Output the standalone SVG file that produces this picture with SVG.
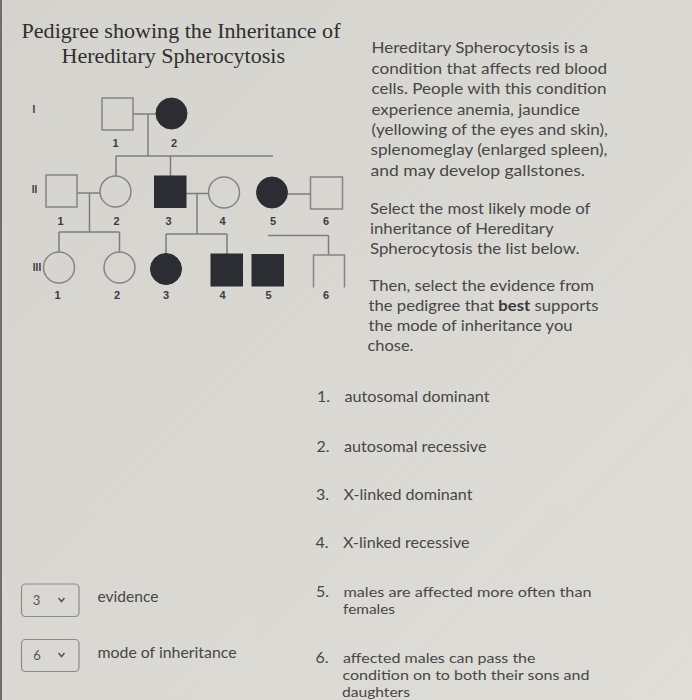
<svg xmlns="http://www.w3.org/2000/svg" width="692" height="700" viewBox="0 0 692 700">
  <defs>
    <linearGradient id="bg" x1="0" y1="0" x2="1" y2="1">
      <stop offset="0" stop-color="#d5d3ce"/>
      <stop offset="1" stop-color="#dfddd8"/>
    </linearGradient>
  </defs>
  <style>
    .title { font-family: "Liberation Serif", "Times New Roman", serif; font-size: 22px; fill: #2f2f2f; }
    .para { font-family: Lato, "Open Sans", "Liberation Sans", sans-serif; font-size: 16px; fill: #474747; }
    .tight { font-size: 14px; }
    .bold { font-weight: bold; fill: #3a3a3a; }
    .lbl { font-family: "Liberation Sans", Arial, sans-serif; font-size: 11px; font-weight: bold; fill: #3c3c3c; text-anchor: middle; }
    .gen { font-family: "Liberation Sans", Arial, sans-serif; font-size: 10px; font-weight: bold; fill: #3c3c3c; text-anchor: middle; }
    .open { fill: none; stroke: #858585; stroke-width: 1.5; }
    .filled { fill: #2b2d33; stroke: #2b2d33; stroke-width: 1; }
    .conn line, .conn polyline { stroke: #7d7d7d; stroke-width: 1.5; fill: none; }
    .box { fill: none; stroke: #8c8c8c; stroke-width: 1.2; }
    .chev { fill: none; stroke: #555; stroke-width: 1.5; }
    .sel { font-family: Lato, "Liberation Sans", sans-serif; font-size: 13px; fill: #555; text-anchor: middle; }
  </style>
  <rect width="692" height="700" fill="url(#bg)"/>
  <rect x="0" y="0" width="2" height="700" fill="#6f6e6b"/>

  <!-- Title -->
  <text class="title" x="21.5" y="38" textLength="319" lengthAdjust="spacingAndGlyphs">Pedigree showing the Inheritance of</text>
  <text class="title" x="61.5" y="63" textLength="223.5" lengthAdjust="spacingAndGlyphs">Hereditary Spherocytosis</text>

  <!-- Generation numerals -->
  <text class="gen" x="34" y="113">I</text>
  <text class="gen" x="34.5" y="193">II</text>
  <text class="gen" x="37" y="271">III</text>

  <!-- Connectors -->
  <g id="connectors" class="conn">
    <line x1="133" y1="114" x2="156" y2="114"/>
    <line x1="148" y1="114" x2="148" y2="156"/>
    <line x1="116" y1="156" x2="273" y2="156"/>
    <line x1="116" y1="156" x2="116" y2="176"/>
    <line x1="170.5" y1="156" x2="170.5" y2="176"/>
    <line x1="77" y1="193" x2="100" y2="193"/>
    <line x1="89.5" y1="193" x2="89.5" y2="232"/>
    <line x1="59" y1="232" x2="119.5" y2="232"/>
    <line x1="59" y1="232" x2="59" y2="252"/>
    <line x1="119.5" y1="232" x2="119.5" y2="252"/>
    <line x1="186" y1="193.5" x2="208.5" y2="193.5"/>
    <line x1="197" y1="193.5" x2="197" y2="234"/>
    <line x1="166" y1="234" x2="227" y2="234"/>
    <line x1="166" y1="234" x2="166" y2="253.5"/>
    <line x1="227" y1="234" x2="227" y2="254"/>
    <line x1="288" y1="194" x2="310" y2="194"/>
    <line x1="268" y1="235.5" x2="328.5" y2="235.5"/>
    <line x1="328.5" y1="235.5" x2="328.5" y2="255"/>
  </g>

  <!-- Generation I -->
  <g id="I-1"><rect class="open" x="102" y="98" width="31" height="32"/><text class="lbl" x="115.5" y="147">1</text></g>
  <g id="I-2"><circle class="filled" cx="171.5" cy="113.5" r="15.5"/><text class="lbl" x="174" y="147">2</text></g>

  <!-- Generation II -->
  <g id="II-1"><rect class="open" x="46" y="175" width="31" height="32"/><text class="lbl" x="60.5" y="224.5">1</text></g>
  <g id="II-2"><circle class="open" cx="115.5" cy="191.5" r="15.5"/><text class="lbl" x="116.5" y="224.5">2</text></g>
  <g id="II-3"><rect class="filled" x="154.5" y="176" width="31.5" height="31.5"/><text class="lbl" x="168.5" y="224.5">3</text></g>
  <g id="II-4"><circle class="open" cx="224" cy="192.5" r="15.5"/><text class="lbl" x="222.5" y="224.5">4</text></g>
  <g id="II-5"><circle class="filled" cx="272" cy="192.5" r="15.5"/><text class="lbl" x="273" y="224.5">5</text></g>
  <g id="II-6"><rect class="open" x="310.5" y="177" width="32" height="32"/><text class="lbl" x="326" y="224.5">6</text></g>

  <!-- Generation III -->
  <g id="III-1"><circle class="open" cx="59" cy="267.5" r="15.5"/><text class="lbl" x="57.5" y="298.5">1</text></g>
  <g id="III-2"><circle class="open" cx="119.5" cy="267.5" r="15.5"/><text class="lbl" x="117" y="298.5">2</text></g>
  <g id="III-3"><circle class="filled" cx="166" cy="269" r="15.5"/><text class="lbl" x="166" y="298.5">3</text></g>
  <g id="III-4"><rect class="filled" x="211" y="254" width="31.5" height="32"/><text class="lbl" x="222.5" y="298.5">4</text></g>
  <g id="III-5"><rect class="filled" x="252" y="254.5" width="31.5" height="31.5"/><text class="lbl" x="268.5" y="298.5">5</text></g>
  <g id="III-6"><polyline class="open" points="313.5,287.5 313.5,255 344.5,255 344.5,287.5"/><text class="lbl" x="326" y="298.5">6</text></g>

  <!-- Right paragraph -->
  <g id="description">
    <text class="para" x="371.5" y="53" textLength="216.5" lengthAdjust="spacingAndGlyphs">Hereditary Spherocytosis is a</text>
    <text class="para" x="371.5" y="73.5" textLength="235.5" lengthAdjust="spacingAndGlyphs">condition that affects red blood</text>
    <text class="para" x="371.5" y="94" textLength="235" lengthAdjust="spacingAndGlyphs">cells. People with this condition</text>
    <text class="para" x="371.5" y="114.5" textLength="208.5" lengthAdjust="spacingAndGlyphs">experience anemia, jaundice</text>
    <text class="para" x="371.5" y="135" textLength="236.5" lengthAdjust="spacingAndGlyphs">(yellowing of the eyes and skin),</text>
    <text class="para" x="370.5" y="155" textLength="237" lengthAdjust="spacingAndGlyphs">splenomeglay (enlarged spleen),</text>
    <text class="para" x="370.5" y="175.5" textLength="214.5" lengthAdjust="spacingAndGlyphs">and may develop gallstones.</text>

    <text class="para" x="370" y="214" textLength="220.5" lengthAdjust="spacingAndGlyphs">Select the most likely mode of</text>
    <text class="para" x="370" y="234" textLength="183.5" lengthAdjust="spacingAndGlyphs">inheritance of Hereditary</text>
    <text class="para" x="370" y="254" textLength="209.5" lengthAdjust="spacingAndGlyphs">Spherocytosis the list below.</text>

    <text class="para" x="369.5" y="291" textLength="224.5" lengthAdjust="spacingAndGlyphs">Then, select the evidence from</text>
    <text class="para" x="368.5" y="311" textLength="230" lengthAdjust="spacingAndGlyphs">the pedigree that <tspan class="bold">best</tspan> supports</text>
    <text class="para" x="368.5" y="331" textLength="204" lengthAdjust="spacingAndGlyphs">the mode of inheritance you</text>
    <text class="para" x="367.5" y="351" textLength="46" lengthAdjust="spacingAndGlyphs">chose.</text>
  </g>

  <!-- Options list -->
  <g id="options">
    <text class="para" x="317" y="402">1.</text>
    <text class="para" x="344.5" y="402" textLength="145" lengthAdjust="spacingAndGlyphs">autosomal dominant</text>
    <text class="para" x="316.5" y="451.5">2.</text>
    <text class="para" x="344" y="451.5" textLength="142.5" lengthAdjust="spacingAndGlyphs">autosomal recessive</text>
    <text class="para" x="316" y="500">3.</text>
    <text class="para" x="343.5" y="500" textLength="129" lengthAdjust="spacingAndGlyphs">X-linked dominant</text>
    <text class="para" x="315.5" y="547.5">4.</text>
    <text class="para" x="343" y="547.5" textLength="126.5" lengthAdjust="spacingAndGlyphs">X-linked recessive</text>

    <text class="para" x="316" y="597">5.</text>
    <text class="para tight" x="343.5" y="597" textLength="248" lengthAdjust="spacingAndGlyphs">males are affected more often than</text>
    <text class="para tight" x="343" y="613.5" textLength="52" lengthAdjust="spacingAndGlyphs">females</text>
    <text class="para" x="315.5" y="662.5">6.</text>
    <text class="para tight" x="343" y="662.5" textLength="192.5" lengthAdjust="spacingAndGlyphs">affected males can pass the</text>
    <text class="para tight" x="342.5" y="680" textLength="247" lengthAdjust="spacingAndGlyphs">condition on to both their sons and</text>
    <text class="para tight" x="342" y="696.5" textLength="68" lengthAdjust="spacingAndGlyphs">daughters</text>
  </g>

  <!-- Dropdowns -->
  <g id="select-evidence">
    <rect class="box" x="21.5" y="584" width="57.5" height="32.5" rx="4"/>
    <text class="sel" x="36.5" y="604.5">3</text>
    <polyline class="chev" points="58.5,598 61.5,601.5 64.5,598"/>
    <text class="para" x="97.5" y="602" textLength="61" lengthAdjust="spacingAndGlyphs">evidence</text>
  </g>
  <g id="select-mode">
    <rect class="box" x="21.5" y="639.5" width="57.5" height="32" rx="4"/>
    <text class="sel" x="37" y="659.5">6</text>
    <polyline class="chev" points="58.5,653 61.5,656.5 64.5,653"/>
    <text class="para" x="97.5" y="658" textLength="139" lengthAdjust="spacingAndGlyphs">mode of inheritance</text>
  </g>
</svg>
